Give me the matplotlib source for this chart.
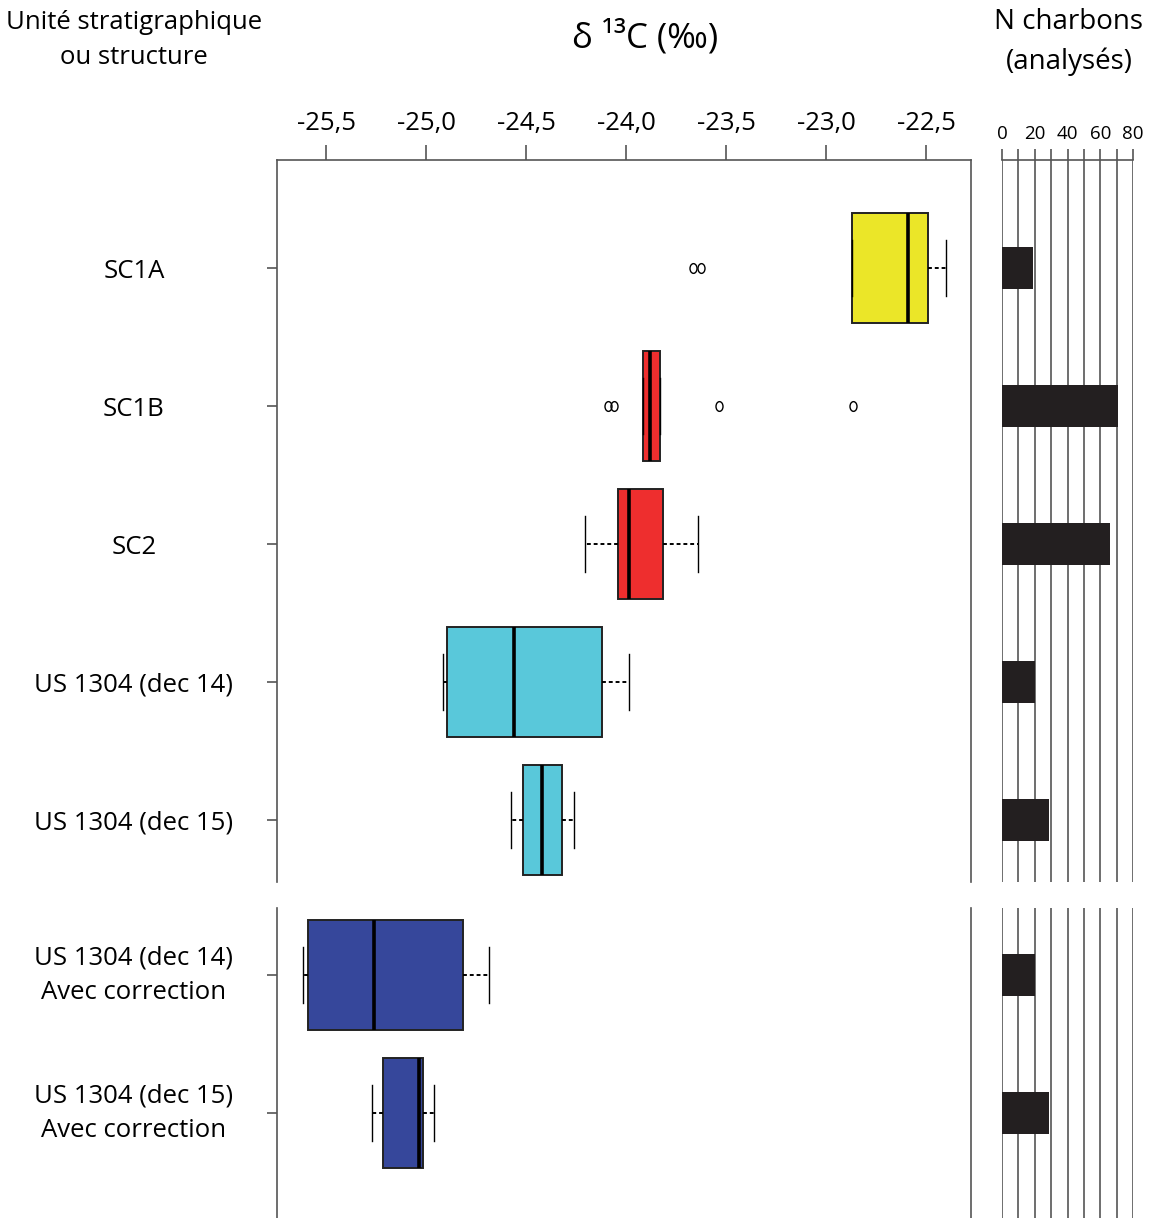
import matplotlib
matplotlib.use('Agg')
import matplotlib.pyplot as plt
from matplotlib.markers import MarkerStyle
from matplotlib.transforms import Affine2D

plt.rcParams['font.family'] = ['Open Sans', 'DejaVu Sans']

# -----------------------------------------------------------------------
# Data
# -----------------------------------------------------------------------
top_labels = ['SC1A', 'SC1B', 'SC2', 'US 1304 (dec 14)', 'US 1304 (dec 15)']
bot_labels = ['US 1304 (dec 14)\nAvec correction',
              'US 1304 (dec 15)\nAvec correction']

top_q1 = [-22.87, -23.915, -24.04, -24.895, -24.515]
top_med = [-22.59, -23.88, -23.985, -24.56, -24.42]
top_q3 = [-22.49, -23.83, -23.815, -24.12, -24.32]
top_wlo = [-22.87, -23.915, -24.205, -24.915, -24.575]
top_whi = [-22.40, -23.83, -23.64, -23.985, -24.26]
top_fliers = [[-23.665, -23.625], [-24.09, -24.06, -23.535, -22.865], [], [], []]
top_colors = ['#ebe628', '#ee2e2e', '#ee2e2e', '#59c8da', '#59c8da']
top_n = [19, 71, 66, 20, 29]

bot_q1 = [-25.59, -25.215]
bot_med = [-25.26, -25.035]
bot_q3 = [-24.815, -25.015]
bot_wlo = [-25.615, -25.27]
bot_whi = [-24.685, -24.96]
bot_colors = ['#36479b', '#36479b']
bot_n = [20, 29]

x_ticks = [-25.5, -25.0, -24.5, -24.0, -23.5, -23.0, -22.5]
n_ticks = [0, 10, 20, 30, 40, 50, 60, 70, 80]

# -----------------------------------------------------------------------
# Layout
# -----------------------------------------------------------------------
W, H = 1153, 1218
fig = plt.figure(figsize=(W / 100, H / 100), dpi=100)

def px_axes(x0, x1, y0, y1):
    return fig.add_axes([x0 / W, 1 - y1 / H, (x1 - x0) / W, (y1 - y0) / H])

ax_top = px_axes(277, 971, 160, 882)
ax_bot = px_axes(277, 971, 908, 1218)
nx_top = px_axes(1002, 1133, 160, 882)
nx_bot = px_axes(1002, 1133, 908, 1218)

XLIM = (-25.745, -22.275)
EDGE = '#555555'
flier_marker = MarkerStyle('o', transform=Affine2D().scale(0.72, 1.0))


def draw_boxes(ax, q1, med, q3, wlo, whi, fliers, colors, labels, ylim):
    stats = []
    for i in range(len(q1)):
        stats.append(dict(q1=q1[i], med=med[i], q3=q3[i],
                          whislo=wlo[i], whishi=whi[i],
                          fliers=fliers[i] if fliers else []))
    bp = ax.bxp(stats, positions=range(len(q1)), widths=0.8, capwidths=0.4,
                orientation='horizontal', patch_artist=True,
                boxprops=dict(edgecolor='#222222', linewidth=1.4),
                medianprops=dict(color='black', linewidth=2.6),
                whiskerprops=dict(color='black', linewidth=1.4,
                                  linestyle=(0, (2, 1.5))),
                capprops=dict(color='black', linewidth=1.0),
                flierprops=dict(marker=flier_marker, markersize=7,
                                markerfacecolor='none', markeredgecolor='black',
                                markeredgewidth=1.0))
    for patch, c in zip(bp['boxes'], colors):
        patch.set_facecolor(c)
    ax.set_xlim(*XLIM)
    ax.set_ylim(*ylim)
    ax.spines['bottom'].set_visible(False)
    for s in ax.spines.values():
        s.set_color(EDGE)
        s.set_linewidth(1.2)
    ax.set_yticks(range(len(labels)))
    ax.set_yticklabels(labels, fontsize=18.5, linespacing=1.5)
    ax.tick_params(axis='y', length=7, width=1.2, color=EDGE, pad=96)
    for lab in ax.get_yticklabels():
        lab.set_ha('center')
        lab.set_multialignment('center')
        if '\n' in lab.get_text():
            lab.set_va('center')


draw_boxes(ax_top, top_q1, top_med, top_q3, top_wlo, top_whi, top_fliers,
           top_colors, top_labels, (4.449, -0.783))
draw_boxes(ax_bot, bot_q1, bot_med, bot_q3, bot_wlo, bot_whi, None,
           bot_colors, bot_labels, (1.761, -0.486))

ax_top.xaxis.tick_top()
ax_top.set_xticks(x_ticks)
ax_top.set_xticklabels([f'{v:.1f}'.replace('.', ',') for v in x_ticks],
                       fontsize=18.5)
ax_top.tick_params(axis='x', length=11, width=1.2, color=EDGE, pad=6)
ax_bot.spines['top'].set_visible(False)
ax_bot.set_xticks([])

# -----------------------------------------------------------------------
# N charbons panel
# -----------------------------------------------------------------------
def draw_counts(ax, counts, ylim):
    for v in n_ticks:
        ax.axvline(v, color=EDGE, linewidth=1.2, zorder=0)
    ax.barh(range(len(counts)), counts, height=0.30, color='#231f20', zorder=2)
    ax.set_xlim(0, 80)
    ax.set_ylim(*ylim)
    for s in ax.spines.values():
        s.set_visible(False)
    ax.set_yticks([])
    ax.set_xticks([])


draw_counts(nx_top, top_n, (4.449, -0.783))
draw_counts(nx_bot, bot_n, (1.761, -0.486))

nx_top.spines['top'].set_visible(True)
nx_top.spines['top'].set_color(EDGE)
nx_top.spines['top'].set_linewidth(1.2)
nx_top.xaxis.tick_top()
nx_top.set_xticks(n_ticks)
nx_top.set_xticklabels([str(v) if v % 20 == 0 else '' for v in n_ticks],
                       fontsize=13.5)
nx_top.tick_params(axis='x', length=8, width=1.2, color=EDGE, pad=4)

# -----------------------------------------------------------------------
# Headers
# -----------------------------------------------------------------------
fig.text(134 / W, 1 - 40 / H, 'Unité stratigraphique\nou structure',
         ha='center', va='center', fontsize=18.5, linespacing=1.5)
fig.text(645 / W, 1 - 38 / H, 'δ ¹³C (‰)', ha='center', va='center',
         fontsize=25)
fig.text(1069 / W, 1 - 42 / H, 'N charbons\n(analysés)',
         ha='center', va='center', fontsize=20, linespacing=1.5)

fig.savefig('out.png', dpi=100)
